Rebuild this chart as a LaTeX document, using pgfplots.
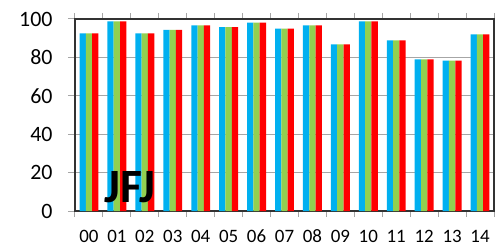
\documentclass[border=0pt]{standalone}
\usepackage{fontspec}
\setmainfont{Carlito}
\usepackage{pgfplots}
\pgfplotsset{compat=1.18}
\definecolor{cblue}{RGB}{0,176,240}
\definecolor{cgreen}{RGB}{146,208,80}
\definecolor{cred}{RGB}{255,0,0}
\definecolor{gridg}{RGB}{166,166,166}
\definecolor{frameg}{RGB}{50,50,50}
\begin{document}
\begin{tikzpicture}
\useasboundingbox (-75bp,-36bp) rectangle (420bp,211bp);
\begin{axis}[
  at={(0,0)}, anchor=south west,
  scale only axis, width=419bp, height=192bp,
  xmin=-0.5, xmax=14.5, ymin=0, ymax=100,
  xtick={0,...,14},
  xticklabels={00,01,02,03,04,05,06,07,08,09,10,11,12,13,14},
  minor xtick={-0.5,0.5,...,14.5},
  ytick={0,20,...,100},
  major x tick style={draw=none},
  minor x tick style={gridg, line width=1bp},
  minor tick length=6bp,
  major tick length=7bp,
  y tick style={gridg, line width=1bp},
  tick align=outside,
  ymajorgrids, grid style={gridg, line width=1.3bp},
  axis line style={frameg, line width=1.2bp},
  /pgf/number format/assume math mode=true,
  xticklabel style={font=\fontsize{19}{22}\selectfont, anchor=center, yshift=-18bp},
  yticklabel style={font=\fontsize{22}{26}\selectfont, xshift=-12bp},
  ybar=0pt, bar width=6.3bp,
  clip=false,
]
\addplot[fill=cblue, draw=none, bar shift=-6.3bp] coordinates {(0,92.5)(1,98.8)(2,92.5)(3,94.3)(4,96.7)(5,95.8)(6,98.1)(7,95.0)(8,96.7)(9,86.8)(10,98.8)(11,88.9)(12,79.0)(13,78.3)(14,92.0)};
\addplot[fill=cgreen, draw=none, bar shift=0bp] coordinates {(0,92.5)(1,98.8)(2,92.5)(3,94.3)(4,96.7)(5,95.8)(6,98.1)(7,95.0)(8,96.7)(9,86.8)(10,98.8)(11,88.9)(12,79.0)(13,78.3)(14,92.0)};
\addplot[fill=cred, draw=none, bar shift=6.3bp] coordinates {(0,92.5)(1,98.8)(2,92.5)(3,94.3)(4,96.7)(5,95.8)(6,98.1)(7,95.0)(8,96.7)(9,86.8)(10,98.8)(11,88.9)(12,79.0)(13,78.3)(14,92.0)};
\node[anchor=base west, inner sep=0pt, font=\bfseries\fontsize{48}{54}\selectfont] at (rel axis cs:0.070,0.043) {JFJ};
\end{axis}
\end{tikzpicture}
\end{document}
